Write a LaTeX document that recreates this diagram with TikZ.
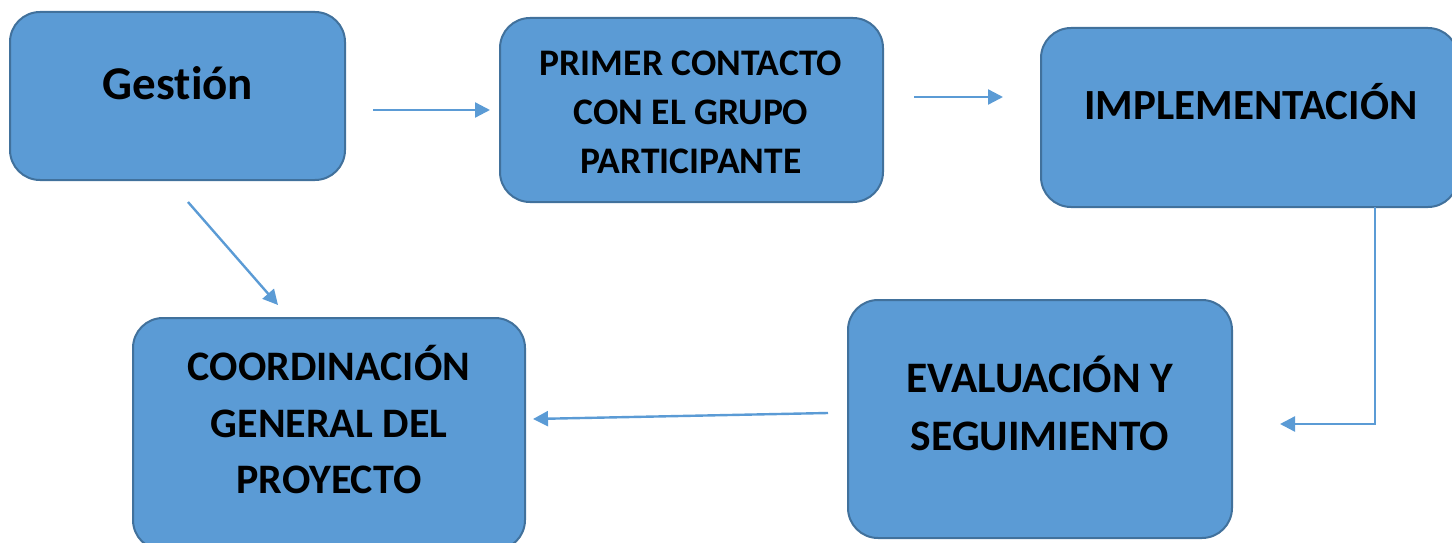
\documentclass[tikz,border=0pt]{standalone}
\usepackage{fontspec}
\setmainfont{Carlito}[Ligatures=NoCommon]
\usetikzlibrary{arrows.meta}
\definecolor{boxfill}{HTML}{5B9BD5}
\definecolor{boxdraw}{HTML}{41719C}
\definecolor{arr}{HTML}{5B9BD5}
\begin{document}
\begin{tikzpicture}[x=1pt,y=-1pt,
  box/.style={draw=boxdraw,fill=boxfill,line width=2pt,rounded corners=30pt,inner sep=0pt},
  txt/.style={font=\bfseries,align=center,text=black,inner sep=0pt},
  conn/.style={draw=arr,line width=2.4pt,-{Triangle[length=15pt,width=15pt]}}]
\useasboundingbox (0,0) rectangle (1452,543);
\clip (0,0) rectangle (1452,543);
% boxes
\node[box,minimum width=335pt,minimum height=168pt] (g) at (177.5,96) {};
\node[box,minimum width=383pt,minimum height=184pt] (p) at (691.5,110) {};
\node[box,minimum width=417pt,minimum height=179pt] (i) at (1249.5,117.5) {};
\node[box,minimum width=392pt,minimum height=232pt] (c) at (329,434) {};
\node[box,minimum width=384pt,minimum height=238pt] (e) at (1040,419) {};
% texts
\node[txt,font=\fontsize{47}{50}\selectfont\bfseries] (gt) at (178,83) {Gestión};
\node[txt,font=\fontsize{37.5}{49}\selectfont\bfseries] (pt) at (691,112) {PRIMER CONTACTO\\CON EL GRUPO\\PARTICIPANTE};
\node[txt,font=\fontsize{43}{50}\selectfont\bfseries] (it) at (1251,102) {IMPLEMENTACIÓN};
\node[txt,font=\fontsize{42}{56.5}\selectfont\bfseries] (ct) at (329,420) {COORDINACIÓN\\GENERAL DEL\\PROYECTO};
\node[txt,font=\fontsize{43.5}{58}\selectfont\bfseries] (et) at (1040,403) {EVALUACIÓN Y\\SEGUIMIENTO};
% connector ends
\coordinate (a1s) at (373,110);
\coordinate (a1e) at (490,110);
\coordinate (a2s) at (914,97);
\coordinate (a2e) at (1003,97);
\coordinate (a3s) at (1375,207);
\coordinate (a3m) at (1375,424);
\coordinate (a3e) at (1280,424);
\coordinate (a4s) at (828,413);
\coordinate (a4e) at (533,419);
\coordinate (a5s) at (188,202);
\coordinate (a5e) at (278,305);
\draw[conn] (a1s) -- (a1e);
\draw[conn] (a2s) -- (a2e);
\draw[conn] (a3s) -- (a3m) -- (a3e);
\draw[conn] (a4s) -- (a4e);
\draw[conn] (a5s) -- (a5e);
\end{tikzpicture}
\end{document}
